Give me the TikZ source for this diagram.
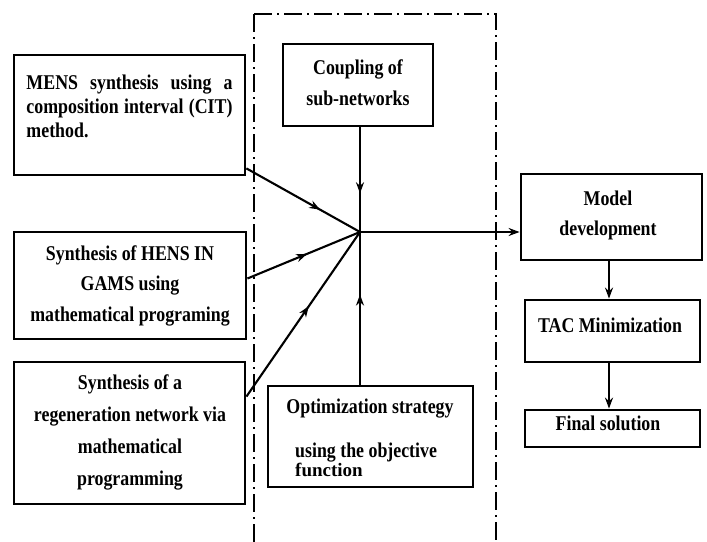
\documentclass[tikz,border=0pt]{standalone}
\usepackage{fontspec}
\setmainfont[FakeStretch=0.85]{Liberation Serif}
\newfontfamily\widefont{Liberation Serif}
\usetikzlibrary{arrows.meta,decorations.markings,calc}

\tikzset{
  box/.style={draw, line width=2.8pt, inner sep=0pt},
  lbl/.style={font=\bfseries\fontsize{21}{#1}\selectfont, inner sep=0pt, align=center},
  lbl/.default=24,
  link/.style={line width=2.1pt},
  tip/.style={-{Stealth[length=11pt,width=8pt]}},
  midarrow/.style={postaction={decorate},
    decoration={markings, mark=at position #1 with {\arrow{Stealth[length=11pt,width=8pt]}}}},
  frame/.style={line width=2pt, dash pattern=on 18pt off 5pt on 2pt off 5pt}
}

\begin{document}
\begin{tikzpicture}[x=1pt, y=-1pt]
\useasboundingbox (0,0) rectangle (707,541);
\begin{scope}
\clip (0,0) rectangle (707,541);
% dash-dotted frame around the coupling stage
\draw[frame] (254,14) -- (496,14) -- (496,580) (254,14) -- (254,580);
\end{scope}

% input sub-network boxes
\node[box, minimum width=231pt, minimum height=120pt] (mens) at (129.5,115) {};
\node[lbl, align=justify, text width=206pt] at (129.5,106)
  {MENS synthesis using a composition interval (CIT) method.};

\node[box, minimum width=232pt, minimum height=107pt] (hens) at (130,285.5) {};
\node[lbl=30.5] at (130,285.5) {Synthesis of HENS IN\\GAMS using\\mathematical programing};

\node[box, minimum width=231pt, minimum height=142pt] (regen) at (129.5,433) {};
\node[lbl=32] at (130,432.5) {Synthesis of a\\regeneration network via\\mathematical\\programming};

% coupling and optimisation boxes
\node[box, minimum width=150pt, minimum height=82pt] (coup) at (358,85) {};
\node[lbl=31] at (358,82.5) {Coupling of\\sub-networks};

\node[box, minimum width=205pt, minimum height=101pt] (opt) at (370.5,436.5) {};
\node[lbl] at (370,409) {Optimization strategy};
\node[lbl=17, align=left, anchor=west] at (295,459.5) {using the objective\\{\widefont\fontsize{19}{17}\selectfont function}};

% result chain
\node[box, minimum width=181pt, minimum height=86pt] (model) at (611.5,217) {};
\node[lbl=30] at (608,215) {Model\\development};

\node[box, minimum width=175pt, minimum height=62pt] (tac) at (612.5,331) {};
\node[lbl] at (610,325) {TAC Minimization};

\node[box, minimum width=175pt, minimum height=37pt] (final) at (612.5,428.5) {};
\node[lbl] at (608,423) {Final solution};

% connectors
\coordinate (J) at (360,232);
\coordinate (R) at (609,0);
\draw[link, midarrow=0.65] ($(mens.south east)+(0,-8)$) -- (J);
\draw[link, midarrow=0.53] ($(hens.east)+(0,-7)$) -- (J);
\draw[link, midarrow=0.55] ($(regen.north east)+(0,36)$) -- (J);
\draw[link, midarrow=0.63] (coup.south -| J) -- (J);
\draw[link, midarrow=0.59] (opt.north -| J) -- (J);
\draw[link, tip] (J) -- (J -| model.west);
\draw[link, tip] (model.south -| R) -- (tac.north -| R);
\draw[link, tip] (tac.south -| R) -- (final.north -| R);
\end{tikzpicture}
\end{document}
